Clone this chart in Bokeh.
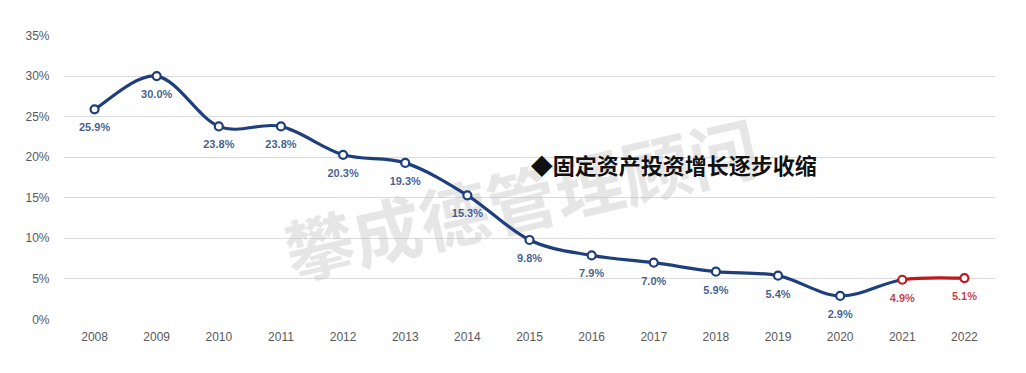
from bokeh.plotting import figure
from bokeh.models import PrintfTickFormatter, ColumnDataSource, FixedTicker, Label
from bokeh.core.properties import value
from bokeh.embed import file_html
from bokeh.resources import INLINE
import math

years = [2008, 2009, 2010, 2011, 2012, 2013, 2014, 2015, 2016, 2017, 2018, 2019, 2020, 2021, 2022]
growth = [25.9, 30.0, 23.8, 23.8, 20.3, 19.3, 15.3, 9.8, 7.9, 7.0, 5.9, 5.4, 2.9, 4.9, 5.1]
labels = ["25.9%", "30.0%", "23.8%", "23.8%", "20.3%", "19.3%", "15.3%", "9.8%", "7.9%", "7.0%", "5.9%", "5.4%", "2.9%", "4.9%", "5.1%"]
y_ticks = [0, 5, 10, 15, 20, 25, 30, 35]
title_text = "◆固定资产投资增长逐步收缩"
watermark = "攀成德管理顾问"

BLUE = "#1F3F7A"
RED = "#C0161E"
n_blue = 13  # points up to 2020 are blue

p = figure(width=1018, height=365, output_backend="svg", toolbar_location=None,
           x_range=(2007.5, 2022.5), y_range=(0, 35),
           min_border_left=63, min_border_right=23, min_border_top=35, min_border_bottom=46)
p.outline_line_color = None
p.background_fill_color = "white"
p.border_fill_color = "white"

p.xaxis.ticker = FixedTicker(ticks=years)
p.yaxis.ticker = FixedTicker(ticks=y_ticks)
p.yaxis.formatter = PrintfTickFormatter(format="%d%%")
for ax in (p.xaxis[0], p.yaxis[0]):
    ax.axis_line_color = None
    ax.major_tick_line_color = None
    ax.minor_tick_line_color = None
    ax.major_label_text_color = "#595959"
    ax.major_label_text_font = "Liberation Sans"
    ax.major_label_text_font_size = "12px"
p.xaxis.major_label_standoff = 6
p.yaxis.major_label_standoff = 8
p.xgrid.grid_line_color = None
p.ygrid.grid_line_color = "#D9D9D9"
p.ygrid.grid_line_width = 1

# watermark
p.text(x=[2014.86], y=[15.1], text=[watermark], angle=math.radians(13),
       text_font=value("Noto Sans CJK SC"), text_font_style="bold",
       text_font_size="69px", text_color="#C8C8C8", text_alpha=0.45,
       text_align="center", text_baseline="middle")

# smooth curve segments (Catmull-Rom -> cubic Bezier)
def seg(i):
    n = len(years)
    i0 = max(i - 1, 0); i3 = min(i + 2, n - 1)
    x0, y0 = years[i0], growth[i0]
    x1, y1 = years[i], growth[i]
    x2, y2 = years[i + 1], growth[i + 1]
    x3, y3 = years[i3], growth[i3]
    return (x1, y1, x2, y2,
            x1 + (x2 - x0) / 6.0, y1 + (y2 - y0) / 6.0,
            x2 - (x3 - x1) / 6.0, y2 - (y3 - y1) / 6.0)

def bez_source(idx):
    d = dict(x0=[], y0=[], x1=[], y1=[], cx0=[], cy0=[], cx1=[], cy1=[])
    for i in idx:
        a = seg(i)
        for k, v in zip(["x0", "y0", "x1", "y1", "cx0", "cy0", "cx1", "cy1"], a):
            d[k].append(v)
    return ColumnDataSource(d)

p.bezier(x0="x0", y0="y0", x1="x1", y1="y1", cx0="cx0", cy0="cy0", cx1="cx1", cy1="cy1",
         source=bez_source(range(0, n_blue)), line_color=BLUE, line_width=3.2)
p.bezier(x0="x0", y0="y0", x1="x1", y1="y1", cx0="cx0", cy0="cy0", cx1="cx1", cy1="cy1",
         source=bez_source(range(n_blue, len(years) - 1)), line_color=RED, line_width=3.2)

# markers
p.scatter(years[:n_blue], growth[:n_blue], size=8, fill_color="white", line_color=BLUE, line_width=2.2)
p.scatter(years[n_blue:], growth[n_blue:], size=8, fill_color="white", line_color=RED, line_width=2.2)

# data labels
colors = [BLUE] * n_blue + [RED] * (len(years) - n_blue)
lab_src = ColumnDataSource(dict(x=years, y=growth, t=labels, c=colors))
p.text(x="x", y="y", text="t", source=lab_src, text_color="c", y_offset=18,
       text_font=value("Liberation Sans"), text_font_style="bold", text_font_size="11px",
       text_align="center", text_baseline="middle", text_alpha=0.85)

# annotation title
p.add_layout(Label(x=2015.02, y=19.2, text=title_text, text_font="Noto Sans CJK SC",
                   text_font_style="bold", text_font_size="22px", text_color="#111111",
                   text_baseline="middle", text_align="left"))

open("out.html", "w").write(file_html(p, INLINE))
